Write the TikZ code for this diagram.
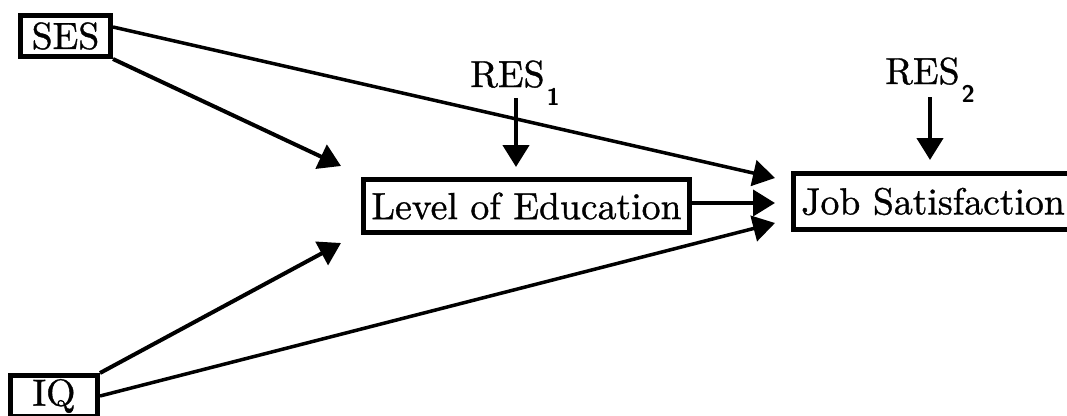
\documentclass[tikz,border=0pt]{standalone}
\usepackage{fontspec}
\setmainfont{lmroman10-regular.otf}
\newfontfamily\diaface{lmroman10-regular.otf}[FakeBold=0.9]
\usetikzlibrary{arrows.meta}
\newcommand\diafont{\diaface\bfseries\fontsize{37.7}{40}\selectfont}
\newcommand\subdig[1]{\kern2pt\raisebox{-18pt}{\fontsize{24}{24}\selectfont\sffamily\bfseries #1}}
\begin{document}
\begin{tikzpicture}[x=1pt,y=-1pt,
  box/.style={draw, line width=5pt, inner sep=0pt, font=\diafont},
  lbl/.style={inner sep=0pt, font=\diafont, anchor=base west},
  arr/.style={-{Triangle[length=22pt,width=26pt]}, line width=4pt}]
\useasboundingbox (0,0) rectangle (1067,415);
% boxes
\node[box, minimum width=90pt, minimum height=41pt] (ses) at (65.5,36) {SES};
\node[box, minimum width=87pt, minimum height=41pt] (iq) at (54,396) {IQ};
\node[box, minimum width=326pt, minimum height=53pt] (loe) at (526.5,206) {Level of Education};
\node[box, minimum width=279pt, minimum height=56pt] (job) at (933,201.5) {Job Satisfaction};
% residual labels
\node[lbl] (res1) at (470,87) {RES\subdig{1}};
\node[lbl] (res2) at (885,84) {RES\subdig{2}};
% arrow end points
\coordinate (j1) at (775,178);
\coordinate (j2) at (775,203);
\coordinate (j3) at (775,223);
\coordinate (l1) at (341,166);
\coordinate (l2) at (341,243);
\coordinate (r1tip) at (516,167);
\coordinate (r2tip) at (930,160);
% connectors
\draw[arr, line width=3.5pt] ([yshift=9pt]ses.east) -- (j1);
\draw[arr] (ses.south east) -- (l1);
\draw[arr] (iq.north east) -- (l2);
\draw[arr, line width=3.5pt] (iq.east) -- (j3);
\draw[arr] (loe.east |- j2) -- (j2);
\draw[arr, line width=4.5pt, shorten <=11pt] (res1.base -| r1tip) -- (r1tip);
\draw[arr, line width=4.5pt, shorten <=13pt] (res2.base -| r2tip) -- (r2tip);
\end{tikzpicture}
\end{document}
